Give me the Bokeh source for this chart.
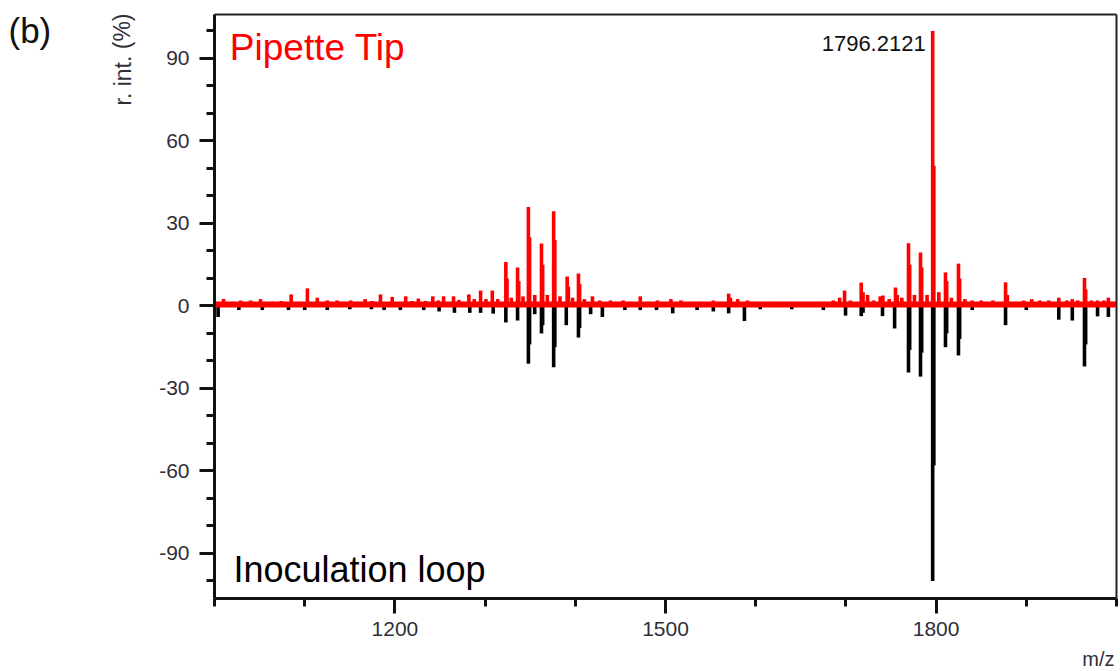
from bokeh.plotting import figure
from bokeh.models import FixedTicker, Label, Range1d, LinearAxis
from bokeh.embed import file_html
from bokeh.resources import INLINE

FONT = "Liberation Sans"

# Pipette Tip spectrum (red, upward): m/z and relative intensity (%)
red_mz = [1010, 1020, 1029, 1040, 1051, 1058, 1065, 1074, 1085, 1093, 1103, 1114, 1125, 1136,
          1143, 1151, 1159, 1167, 1175, 1184, 1197, 1212, 1219, 1226, 1234, 1242, 1248, 1254,
          1265, 1271, 1282, 1288, 1295, 1301, 1308, 1314, 1323, 1324.3, 1329, 1336, 1337.3,
          1342, 1348, 1349.3, 1355, 1362.5, 1363.8, 1369, 1376, 1377.3, 1383, 1391, 1392.3,
          1397, 1403.5, 1404.8, 1410, 1419, 1427, 1439, 1446, 1453, 1462, 1472, 1481, 1491,
          1506, 1517, 1528, 1539, 1553, 1562, 1570, 1572, 1580, 1591, 1602, 1616, 1631, 1645,
          1660, 1675, 1686, 1693, 1698.5, 1705, 1717, 1719, 1724, 1731, 1738, 1741, 1748, 1755,
          1757, 1762, 1769.4, 1770.7, 1776, 1782.7, 1784, 1790, 1796.2, 1797.5, 1803, 1810.4,
          1811.7, 1817, 1824.8, 1826.1, 1832, 1840, 1850, 1863, 1877, 1879, 1888, 1897, 1906,
          1915, 1925, 1936, 1945, 1951, 1957, 1964.5, 1965.8, 1972, 1979, 1986, 1991, 1997]
red_int = [2.5, 1.5, 2.0, 2.0, 2.5, 1.5, 1.5, 1.8, 4.2, 1.5, 6.4, 3.0, 2.0, 2.0,
           1.5, 2.0, 1.5, 2.5, 1.8, 4.2, 3.3, 3.5, 1.8, 2.7, 1.8, 3.5, 2.0, 3.5,
           3.5, 2.2, 4.2, 2.5, 5.6, 2.5, 5.6, 2.5, 16.0, 10.0, 3.0, 14.0, 9.0,
           3.5, 36.0, 25.0, 4.0, 22.7, 15.0, 4.0, 34.4, 24.0, 3.5, 10.7, 7.0,
           3.0, 11.8, 8.0, 2.5, 3.5, 2.0, 2.0, 1.5, 2.0, 1.5, 3.5, 1.5, 2.0,
           2.5, 2.0, 1.5, 1.5, 2.0, 1.5, 4.5, 3.0, 2.5, 2.0, 1.5, 1.5, 1.5, 1.2,
           1.2, 1.5, 2.0, 3.0, 5.6, 2.0, 8.5, 5.0, 4.0, 2.0, 3.5, 3.8, 2.5, 6.7,
           4.0, 3.0, 22.8, 15.0, 4.0, 19.4, 14.0, 4.0, 100.0, 51.0, 5.0, 12.2,
           9.0, 3.0, 15.4, 10.0, 2.5, 2.0, 2.0, 2.0, 8.6, 4.0, 1.5, 2.0, 2.5,
           2.0, 2.0, 3.0, 2.0, 2.5, 2.0, 10.2, 6.0, 2.0, 2.0, 2.0, 3.0, 1.5]

# Inoculation loop spectrum (black, mirrored downward)
black_mz = [1004, 1027, 1053, 1082, 1100, 1125, 1150, 1174, 1188, 1206, 1232, 1249, 1266, 1283,
            1295, 1309, 1323, 1336, 1348, 1349.3, 1355, 1362.5, 1363.8, 1376, 1377.3, 1390,
            1403.5, 1404.8, 1417, 1430, 1455, 1472, 1490, 1508, 1535, 1553, 1570, 1587.5, 1605,
            1640, 1675, 1699.6, 1717, 1719, 1740.6, 1754, 1769.4, 1770.7, 1782.7, 1784, 1796.2,
            1797.5, 1810.4, 1811.7, 1824.8, 1826.1, 1840, 1877, 1900, 1936, 1951, 1964.5,
            1965.8, 1979, 1991]
black_int = [-4.0, -1.5, -1.5, -1.5, -1.5, -1.5, -1.2, -1.2, -1.5, -1.5, -1.5, -2.0, -2.5, -2.5,
             -2.5, -2.8, -6.0, -5.3, -21.0, -14.0, -3.0, -10.0, -7.0, -22.3, -15.0, -7.0,
             -11.5, -8.0, -3.0, -4.0, -1.5, -1.5, -1.5, -2.7, -1.5, -2.0, -2.7, -5.5, -1.2,
             -1.2, -1.5, -3.5, -3.7, -2.5, -3.7, -8.2, -24.2, -16.0, -25.7, -17.0, -100.0,
             -58.0, -15.0, -10.0, -18.0, -12.0, -1.5, -7.0, -1.5, -5.0, -5.3, -22.0,
             -14.0, -3.8, -4.0]

y_major = [-90, -60, -30, 0, 30, 60, 90]
y_minor = list(range(-100, 101, 10))
x_major = [1200, 1500, 1800]
x_minor = list(range(1000, 2001, 100))

# axis extents (plot box)
MZ_LO, MZ_HI = 1000, 2000
INT_LO, INT_HI = -106.4, 106.0

# canvas geometry: plot box occupies pixels x 214..1116, y 14..598 of the 1120x671 page
W, H = 1120, 671
BOX_L, BOX_R, BOX_T, BOX_B = 214, 1116, 14, 598
sx = (BOX_R - BOX_L) / (MZ_HI - MZ_LO)
sy = (BOX_B - BOX_T) / (INT_HI - INT_LO)
x_start = MZ_LO - BOX_L / sx
x_end = x_start + W / sx
y_end = INT_HI + BOX_T / sy
y_start = y_end - H / sy


def px_x(px):
    return x_start + px / sx


def px_y(py):
    return y_end - py / sy


p = figure(width=W, height=H, x_range=Range1d(x_start, x_end), y_range=Range1d(y_start, y_end),
           output_backend="svg", toolbar_location=None,
           min_border_left=0, min_border_right=0, min_border_top=0, min_border_bottom=0)
p.grid.visible = False
p.background_fill_color = "white"
p.border_fill_color = "white"
p.outline_line_color = None

xa = p.xaxis[0]
ya = p.yaxis[0]
xa.fixed_location = INT_LO
xa.bounds = (MZ_LO, MZ_HI)
ya.fixed_location = MZ_LO
ya.bounds = (INT_LO, INT_HI)

for ax in (xa, ya):
    ax.axis_line_width = 3
    ax.axis_line_color = "#111111"
    ax.major_tick_line_width = 3
    ax.minor_tick_line_width = 3
    ax.major_tick_line_color = "#111111"
    ax.minor_tick_line_color = "#111111"
    ax.major_tick_in = 0
    ax.minor_tick_in = 0
    ax.major_tick_out = 15
    ax.minor_tick_out = 8
    ax.major_label_text_font = FONT
    ax.major_label_text_font_size = "21px"
    ax.major_label_text_color = "#2f2f3a"

xa.ticker = FixedTicker(ticks=x_major, minor_ticks=x_minor)
ya.ticker = FixedTicker(ticks=y_major, minor_ticks=y_minor)
ya.major_label_overrides = {t: str(t) for t in y_major}
xa.major_label_standoff = 8
ya.major_label_standoff = 10

# top and right edges of the box
top_edge = LinearAxis(fixed_location=INT_HI, bounds=(MZ_LO, MZ_HI), ticker=FixedTicker(ticks=[]),
                      axis_line_width=2, axis_line_color="#222222",
                      major_tick_line_color=None, minor_tick_line_color=None,
                      major_label_text_font_size="0px")
right_edge = LinearAxis(fixed_location=MZ_HI, bounds=(INT_LO, INT_HI), ticker=FixedTicker(ticks=[]),
                        axis_line_width=2, axis_line_color="#222222",
                        major_tick_line_color=None, minor_tick_line_color=None,
                        major_label_text_font_size="0px")
p.add_layout(top_edge, "above")
p.add_layout(right_edge, "right")

# spectra
p.segment(x0=black_mz, y0=0, x1=black_mz, y1=black_int, line_color="black", line_width=3.6)
p.segment(x0=red_mz, y0=0, x1=red_mz, y1=red_int, line_color="#ff0000", line_width=3.6)
p.line(x=[MZ_LO + 1, MZ_HI - 1], y=[0.5, 0.5], line_color="#ff0000", line_width=6)

# texts
p.add_layout(Label(x=1796.2, y=95.3, x_offset=-7, text="1796.2121", text_align="right",
                   text_baseline="middle", text_font=FONT, text_font_size="22px",
                   text_color="#111111"))
p.add_layout(Label(x=1017, y=94.0, text="Pipette Tip", text_align="left",
                   text_baseline="alphabetic", text_font=FONT, text_font_size="37px",
                   text_color="#ff0000"))
p.add_layout(Label(x=1021, y=-95.9, text="Inoculation loop", text_align="left",
                   text_baseline="alphabetic", text_font=FONT, text_font_size="36px",
                   text_color="#000000"))
p.add_layout(Label(x=px_x(8), y=px_y(30), text="(b)", text_align="left",
                   text_baseline="middle", text_font=FONT, text_font_size="35px",
                   text_color="#111111"))
p.add_layout(Label(x=px_x(122), y=px_y(59), text="r. int. (%)", angle=1.5708,
                   text_align="center", text_baseline="middle", text_font=FONT,
                   text_font_size="23px", text_color="#2f2f3a"))
p.add_layout(Label(x=px_x(1114), y=px_y(658), text="m/z", text_align="right",
                   text_baseline="middle", text_font=FONT, text_font_size="20px",
                   text_color="#2f2f3a"))

open("out.html", "w").write(file_html(p, INLINE))
